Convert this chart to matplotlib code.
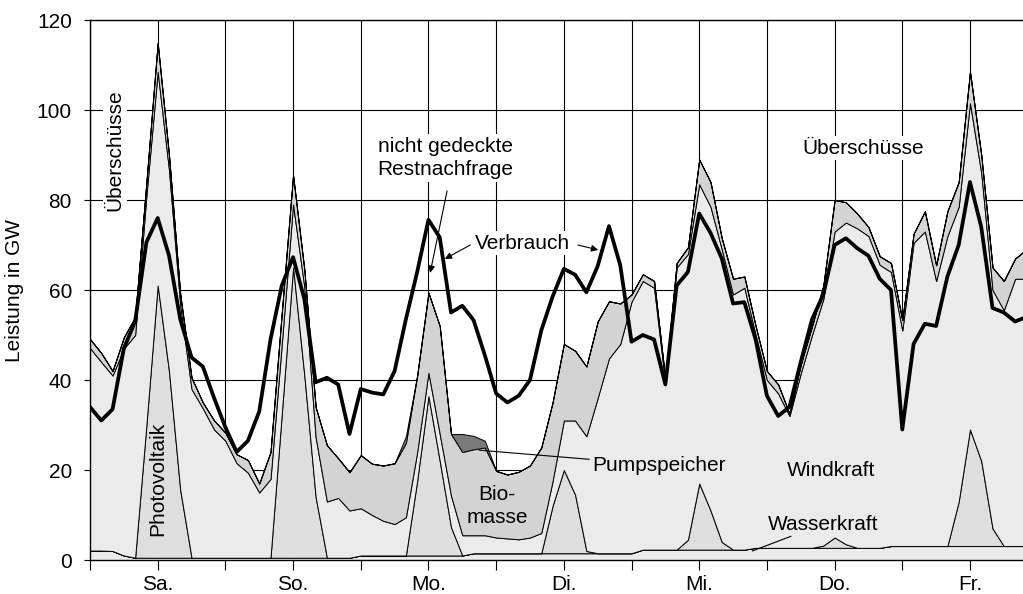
import numpy as np
import matplotlib.pyplot as plt

plt.rcParams['font.family'] = ['Liberation Sans', 'DejaVu Sans']

# Stunden ab Samstag 0 Uhr, 2-h-Raster
stunden = np.arange(0, 167, 2)

wasserkraft = [2.1, 2.1, 2.0, 1.0] + [0.5] * 20 + [1.0] * 10 + [1.5] * 15 \
    + [2.3] * 10 + [2.7] * 12 + [3.1] * 13

photovoltaik = [0, 0, 0, 0, 0, 29.5, 60.5, 41.5, 15, 0,
                0, 0, 0, 0, 0, 0, 0, 32, 64.5, 40.5,
                13.5, 0, 0, 0, 0, 0, 0, 0, 0, 16.6,
                35.4, 21, 6.3, 0, 0, 0, 0, 0, 0, 0,
                0, 10.5, 18.5, 13, 0.5, 0, 0, 0, 0, 0,
                0, 0, 0, 2.2, 14.7, 8.7, 1.7, 0, 0, 0,
                0, 0, 0, 0, 0, 0.5, 2.3, 0.8, 0, 0,
                0, 0, 0, 0, 0, 0, 0, 9.9, 25.9, 18.9,
                3.9, 0, 0, 0]

windkraft = [45, 41.9, 39, 46, 49.5, 51, 47.5, 44.7, 41.1, 37.5,
             33.2, 28.5, 26, 21, 18.9, 14.5, 17.5, 15.5, 14, 19.6,
             13.3, 12.5, 13.3, 10.5, 10.5, 9, 7.7, 7, 8.5, 6.4,
             5.2, 6, 7, 4.5, 4, 4, 3.5, 3.3, 3.1, 3.5,
             4.5, 5.5, 11, 16.5, 25.5, 34.5, 43.3, 46.5, 55.9, 59.7,
             58.2, 36.7, 62.7, 63.5, 66.5, 67.5, 65, 56.7, 58.2, 47.3,
             37.3, 34.3, 29.3, 38.8, 47.3, 54.8, 68, 71.5, 71, 69.3,
             62.9, 60.9, 47.9, 67.4, 69.9, 58.9, 68.9, 65.5, 72.5, 64,
             53, 52.4, 59.4, 59.4]

biomasse = [2, 2, 1, 2.5, 4, 3, 6.4, 3.3, 2.4, 2.5,
            1.3, 2, 1.8, 2, 2.8, 2, 6, 7, 6.5, 3.9,
            6.7, 12.5, 8.8, 8.5, 11.8, 11.4, 12.3, 13.5, 16.5, 17,
            17.8, 24, 13.7, 18.5, 19.1, 19.5, 14.8, 14.2, 15, 16,
            19, 17.5, 17, 15.5, 15.5, 17, 12.7, 9, 1.6, 1.5,
            1.5, 1, 1, 1.5, 5.5, 5.5, 2.5, 3.5, 2.5, 2,
            2, 2, 0.5, 2, 2, 3, 7, 4.5, 3.3, 2,
            1.9, 2, 2.3, 2, 4.5, 3.5, 5.5, 5.5, 7, 4,
            5, 6.5, 4.5, 6.5]

pumpspeicher = [0] * 28 + [1.5, 0, 0, 0, 0, 4, 3, 1.5] + [0] * 48

verbrauch = [34, 31, 33.5, 47, 53, 70.6, 76, 67.7, 53.5, 45,
             43, 36, 29.5, 24, 26.5, 33, 49, 61, 67.3, 58,
             39.5, 40.5, 39, 28, 38, 37.2, 36.8, 42, 53.5, 64,
             75.6, 71.7, 55, 56.5, 53.3, 45.5, 37, 35, 36.5, 40,
             51, 58.5, 64.7, 63.4, 59.5, 65.3, 74.2, 65.5, 48.5, 50,
             49, 39, 61, 64, 77, 72.7, 67, 57, 57.3, 49,
             36.5, 32, 34, 44, 53.5, 59, 70, 71.5, 69.3, 67.6,
             62.5, 60, 29, 48, 52.5, 52, 63, 70, 84, 74,
             56, 55, 53, 54]

tage = ['Sa.', 'So.', 'Mo.', 'Di.', 'Mi.', 'Do.', 'Fr.']

fig = plt.figure(figsize=(10.23, 5.94), dpi=100)
ax = fig.add_axes([90 / 1023, 34 / 594, 933 / 1023, 540 / 594])

ax.stackplot(stunden, wasserkraft, photovoltaik, windkraft, biomasse, pumpspeicher,
             colors=['#ebebeb', '#dedede', '#ebebeb', '#d3d3d3', '#7a7a7a'],
             edgecolor='black', linewidth=0.7, zorder=2)
ax.plot(stunden, verbrauch, color='black', lw=2.7, zorder=3)

ax.set_xlim(0, 165.4)
ax.set_ylim(0, 120)
ax.set_yticks(np.arange(0, 121, 20))
ax.set_xticks(np.arange(12, 168, 24))
ax.set_xticklabels(tage)
ax.set_xticks(np.arange(0, 168, 24), minor=True)
ax.set_axisbelow(True)
ax.grid(which='both', color='black', lw=0.8, zorder=0)
ax.tick_params(axis='x', which='both', direction='out', length=7, width=0.8, pad=4, labelsize=15)
ax.tick_params(axis='y', direction='out', length=4, width=0.8, pad=9, labelsize=15)
ax.spines['right'].set_visible(False)
for s in ['left', 'top', 'bottom']:
    ax.spines[s].set_linewidth(1.0)
ax.set_ylabel('Leistung in GW', fontsize=15, labelpad=9)

weiss = dict(facecolor='white', edgecolor='none', pad=2)
fs = 15
ax.text(4.4, 91, 'Überschüsse', rotation=90, ha='center', va='center', fontsize=fs, bbox=weiss, zorder=5)
ax.text(12, 18, 'Photovoltaik', rotation=90, ha='center', va='center', fontsize=fs, zorder=5)
ax.text(51, 89.3, 'nicht gedeckte\nRestnachfrage', ha='left', va='center', fontsize=fs,
        linespacing=1.3, bbox=weiss, zorder=5)
ax.annotate('', xy=(60.3, 63.8), xytext=(63.3, 82),
            arrowprops=dict(arrowstyle='-|>', color='black', lw=0.8, mutation_scale=10, shrinkA=0, shrinkB=0),
            zorder=5)
ax.text(76.6, 70.4, 'Verbrauch', ha='center', va='center', fontsize=fs, bbox=weiss, zorder=5)
ax.annotate('', xy=(62.9, 66.9), xytext=(67.4, 70),
            arrowprops=dict(arrowstyle='-|>', color='black', lw=0.8, mutation_scale=10, shrinkA=0, shrinkB=0),
            zorder=5)
ax.annotate('', xy=(90.1, 68.9), xytext=(86.5, 70),
            arrowprops=dict(arrowstyle='-|>', color='black', lw=0.8, mutation_scale=10, shrinkA=0, shrinkB=0),
            zorder=5)
ax.annotate('Pumpspeicher', xy=(69, 24.4), xytext=(89, 21.1), ha='left', va='center', fontsize=fs,
            arrowprops=dict(arrowstyle='-', color='black', lw=0.8, shrinkA=0, shrinkB=0), zorder=5)
ax.text(72.2, 12, 'Bio-\nmasse', ha='center', va='center', fontsize=fs, linespacing=1.3, zorder=5)
ax.text(131.4, 20, 'Windkraft', ha='center', va='center', fontsize=fs, zorder=5)
ax.annotate('Wasserkraft', xy=(117.4, 2.0), xytext=(120.2, 8), ha='left', va='center', fontsize=fs,
            arrowprops=dict(arrowstyle='-', color='black', lw=0.8, shrinkA=0, shrinkB=0), zorder=5)
ax.text(137, 91.5, 'Überschüsse', ha='center', va='center', fontsize=fs, bbox=weiss, zorder=5)

fig.savefig('out.png', dpi=100)
